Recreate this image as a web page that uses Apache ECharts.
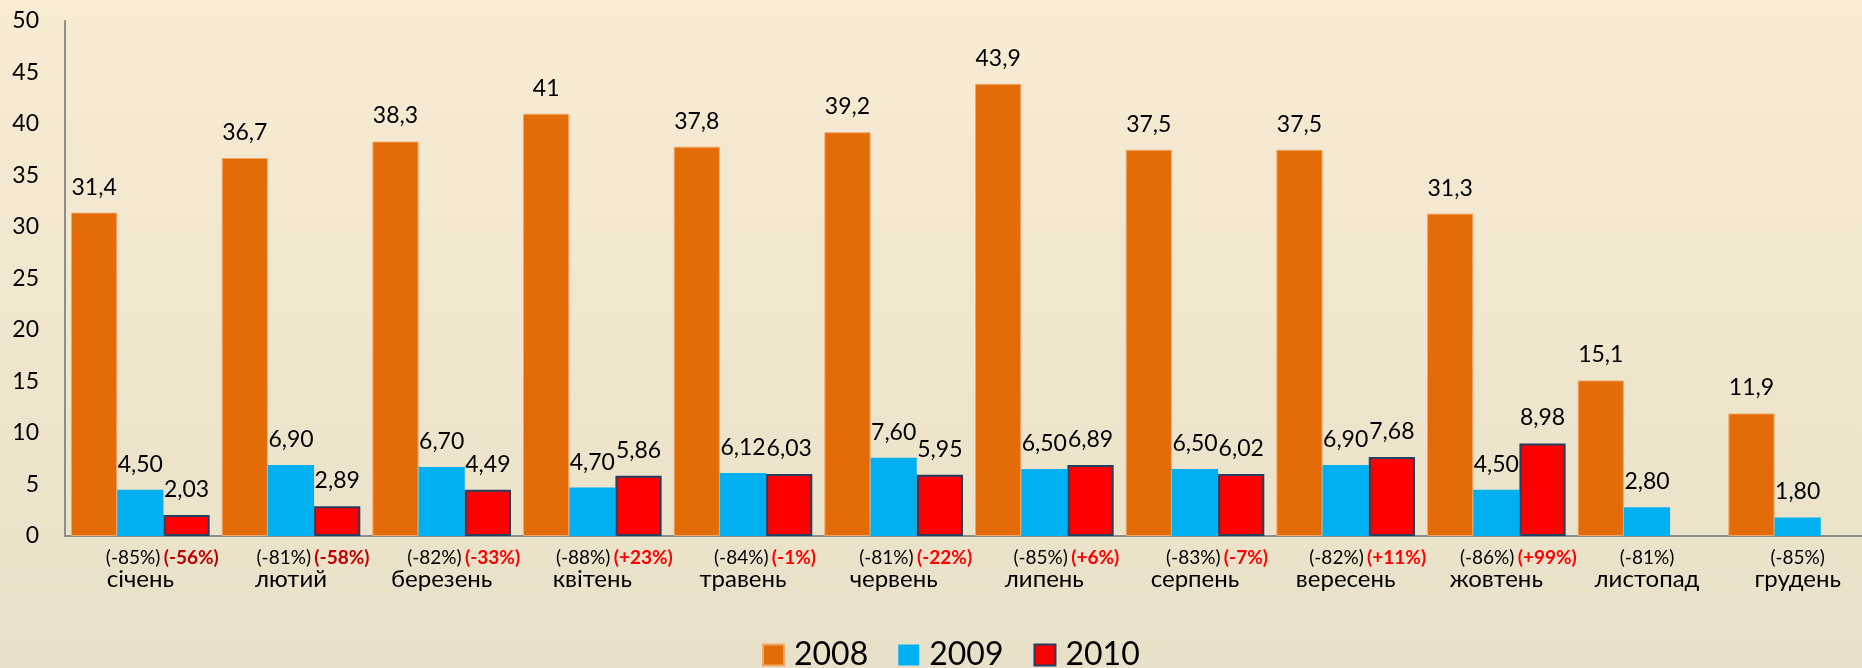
<!DOCTYPE html>
<html>
<head>
<meta charset="utf-8">
<script src="https://cdn.jsdelivr.net/npm/echarts@6/dist/echarts.min.js"></script>
<style>
  html, body { margin: 0; padding: 0; }
  #chart { width: 1862px; height: 668px; }
</style>
</head>
<body>
<div id="chart"></div>
<script>
// місяці
const months = ['січень', 'лютий', 'березень', 'квітень', 'травень', 'червень',
  'липень', 'серпень', 'вересень', 'жовтень', 'листопад', 'грудень']

const v2008 = [31.4, 36.7, 38.3, 41, 37.8, 39.2, 43.9, 37.5, 37.5, 31.3, 15.1, 11.9]
const v2009 = [4.50, 6.90, 6.70, 4.70, 6.12, 7.60, 6.50, 6.50, 6.90, 4.50, 2.80, 1.80]
const v2010 = [2.03, 2.89, 4.49, 5.86, 6.03, 5.95, 6.89, 6.02, 7.68, 8.98, null, null]

// зміна 2009 до 2008 та 2010 до 2009
const chg2009 = ['-85%', '-81%', '-82%', '-88%', '-84%', '-81%', '-85%', '-83%', '-82%', '-86%', '-81%', '-85%']
const chg2010 = ['-56%', '-58%', '-33%', '+23%', '-1%', '-22%', '+6%', '-7%', '+11%', '+99%', null, null]

const yTicks = { min: 0, max: 50, interval: 5 }

const FONT = 'Lato, "Noto Sans", sans-serif'
const comma = (s) => String(s).replace('.', ',')

const labelTop = (fmt) => ({
  show: true,
  position: 'top',
  distance: 14,
  color: '#000',
  fontFamily: FONT,
  fontSize: 23,
  formatter: (p) => fmt(p.value)
})

const chart = echarts.init(document.getElementById('chart'))

chart.setOption({
  backgroundColor: {
    type: 'linear', x: 0, y: 0, x2: 0, y2: 1,
    colorStops: [
      { offset: 0, color: '#F8ECD3' },
      { offset: 1, color: '#E8E0C8' }
    ]
  },
  animation: false,
  legend: {
    data: ['2008', '2009', '2010'],
    left: 762,
    top: 639,
    padding: 0,
    icon: 'rect',
    itemWidth: 21,
    itemHeight: 21,
    itemGap: 30,
    textStyle: { fontFamily: FONT, fontSize: 32, color: '#000', padding: [0, 0, 0, 5] }
  },
  grid: {
    left: 65,
    top: 21,
    width: 1808,
    height: 515,
    outerBoundsMode: 'none'
  },
  xAxis: {
    type: 'category',
    data: months,
    axisLine: { lineStyle: { color: '#8E8E8E', width: 2 } },
    axisTick: { show: false },
    axisLabel: {
      interval: 0,
      margin: 11,
      formatter: (val, i) => {
        let top = `{a|(${chg2009[i]})}`
        if (chg2010[i]) {
          const st = i < 2 ? 'b' : 'c'
          top = `{s| }${top} {${st}|(${chg2010[i]})}`
        }
        return top + '\n{m|' + val + '}'
      },
      rich: {
        s: { width: 44 },
        a: { fontFamily: FONT, fontSize: 19, color: '#000', lineHeight: 21 },
        b: { fontFamily: FONT, fontSize: 19, fontWeight: 'bold', color: '#C00000', lineHeight: 21 },
        c: { fontFamily: FONT, fontSize: 19, fontWeight: 'bold', color: '#FF0000', lineHeight: 21 },
        m: { fontFamily: FONT, fontSize: 24, color: '#000', lineHeight: 22 }
      }
    }
  },
  yAxis: {
    type: 'value',
    min: yTicks.min,
    max: yTicks.max,
    interval: yTicks.interval,
    axisLine: { show: true, lineStyle: { color: '#8E8E8E', width: 2 } },
    axisTick: { show: false },
    splitLine: { show: false },
    axisLabel: { margin: 26, color: '#000', fontFamily: FONT, fontSize: 23 }
  },
  series: [
    {
      name: '2008',
      type: 'bar',
      data: v2008,
      barGap: 0,
      barCategoryGap: '8%',
      itemStyle: { color: '#E36C09', borderColor: '#F2A76A', borderWidth: 1 },
      label: labelTop((v) => comma(v))
    },
    {
      name: '2009',
      type: 'bar',
      data: v2009,
      barGap: 0,
      barCategoryGap: '8%',
      itemStyle: { color: '#00B0F0' },
      label: labelTop((v) => comma(v.toFixed(2)))
    },
    {
      name: '2010',
      type: 'bar',
      data: v2010,
      barGap: 0,
      barCategoryGap: '8%',
      itemStyle: { color: '#FF0000', borderColor: '#243F60', borderWidth: 2 },
      label: labelTop((v) => comma(v.toFixed(2)))
    }
  ]
})
</script>
</body>
</html>
